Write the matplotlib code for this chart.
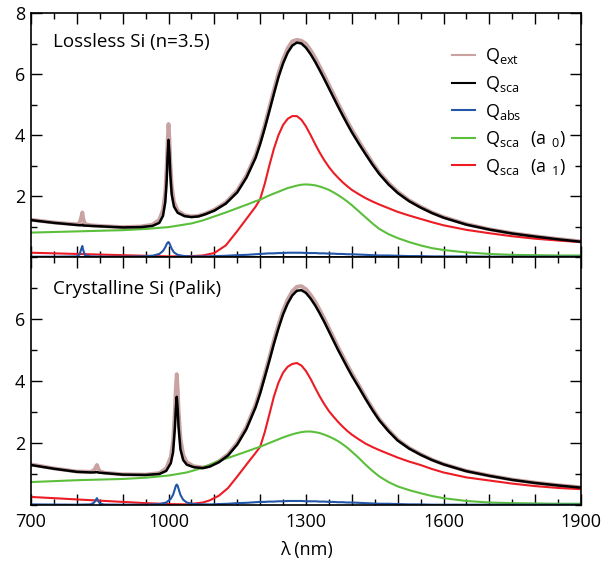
import matplotlib
matplotlib.use("Agg")
from matplotlib import pyplot as plt
from matplotlib.ticker import MultipleLocator, FuncFormatter
from matplotlib.lines import Line2D

plt.rcParams['font.family'] = ['Open Sans', 'DejaVu Sans']
plt.rcParams['mathtext.fontset'] = 'custom'
plt.rcParams['mathtext.rm'] = 'Open Sans'

# ---- top panel: lossless Si (n=3.5) ----
wl_top = [700, 750, 800, 806, 810, 812, 814, 818, 830, 860,
          900, 940, 965, 980, 988, 993, 996, 998, 1000, 1002,
          1004, 1007, 1012, 1020, 1035, 1050, 1065, 1080,
          1100, 1125, 1150, 1170, 1190,
          1200, 1210, 1220, 1230, 1240, 1250, 1260, 1270, 1280, 1290, 1300,
          1310, 1320, 1330, 1340, 1350, 1360, 1370, 1380, 1390, 1400,
          1415, 1430, 1445, 1460, 1480, 1500, 1525, 1550, 1575, 1600,
          1650, 1700, 1750, 1800, 1850, 1900]
sca_top = [1.21, 1.12, 1.05, 1.04, 1.04, 1.06, 1.03, 1.03, 1.02, 1.00,
           0.97, 0.98, 1.02, 1.12, 1.35, 1.80, 2.50, 3.30, 3.84, 3.40,
           2.70, 2.05, 1.65, 1.45, 1.34, 1.31, 1.33, 1.40,
           1.52, 1.75, 2.12, 2.60, 3.25,
           3.70, 4.22, 4.78, 5.35, 5.90, 6.35, 6.70, 6.93, 7.03, 7.00, 6.86,
           6.65, 6.40, 6.12, 5.83, 5.53, 5.23, 4.93, 4.64, 4.36, 4.09,
           3.72, 3.37, 3.03, 2.72, 2.38, 2.10, 1.83, 1.62, 1.44, 1.29,
           1.06, 0.90, 0.77, 0.67, 0.58, 0.50]
abs_top = [0.01, 0.01, 0.02, 0.08, 0.28, 0.36, 0.22, 0.05, 0.02, 0.01,
           0.01, 0.02, 0.04, 0.10, 0.20, 0.32, 0.42, 0.47, 0.49, 0.45,
           0.38, 0.27, 0.15, 0.07, 0.03, 0.02, 0.02, 0.02,
           0.03, 0.04, 0.06, 0.07, 0.09,
           0.10, 0.11, 0.12, 0.12, 0.13, 0.13, 0.14, 0.14, 0.14, 0.14, 0.13,
           0.13, 0.13, 0.12, 0.12, 0.11, 0.11, 0.10, 0.10, 0.09, 0.09,
           0.08, 0.07, 0.06, 0.05, 0.05, 0.04, 0.03, 0.03, 0.02, 0.02,
           0.02, 0.01, 0.01, 0.01, 0.01, 0.01]
ext_top = [1.22, 1.13, 1.07, 1.12, 1.32, 1.46, 1.25, 1.08, 1.04, 1.01,
           0.98, 1.00, 1.06, 1.22, 1.55, 2.12, 2.92, 3.77, 4.36, 3.85,
           3.08, 2.32, 1.80, 1.52, 1.37, 1.33, 1.35, 1.42,
           1.55, 1.79, 2.18, 2.67, 3.34,
           3.80, 4.33, 4.90, 5.47, 6.03, 6.48, 6.84, 7.07, 7.12, 7.09, 6.99,
           6.78, 6.53, 6.24, 5.95, 5.64, 5.34, 5.03, 4.74, 4.45, 4.18,
           3.80, 3.44, 3.09, 2.77, 2.43, 2.14, 1.86, 1.65, 1.46, 1.31,
           1.08, 0.91, 0.78, 0.68, 0.59, 0.51]
wl_top_a = [700, 750, 800, 850, 900, 950, 1000, 1050, 1075, 1100, 1125, 1150, 1175, 1190,
            1200, 1210, 1220, 1230, 1240, 1250, 1260, 1270, 1280, 1290, 1300,
            1310, 1320, 1330, 1340, 1350, 1360, 1370, 1380, 1390, 1400,
            1415, 1430, 1445, 1460, 1480, 1500, 1525, 1550, 1575, 1600,
            1650, 1700, 1750, 1800, 1850, 1900]
a0_top = [0.80, 0.82, 0.84, 0.86, 0.88, 0.92, 0.98, 1.10, 1.20, 1.33, 1.46, 1.60, 1.74, 1.83,
          1.88, 1.95, 2.02, 2.08, 2.14, 2.20, 2.26, 2.30, 2.34, 2.37, 2.38,
          2.37, 2.35, 2.31, 2.26, 2.20, 2.12, 2.03, 1.93, 1.82, 1.70,
          1.50, 1.30, 1.10, 0.92, 0.75, 0.62, 0.49, 0.38, 0.29, 0.23,
          0.15, 0.10, 0.07, 0.06, 0.05, 0.05]
a1_top = [0.14, 0.12, 0.10, 0.08, 0.06, 0.04, 0.02, 0.03, 0.05, 0.13, 0.38, 0.85, 1.35, 1.65,
          1.90, 2.40, 3.00, 3.55, 4.00, 4.33, 4.53, 4.62, 4.62, 4.50, 4.28,
          4.00, 3.70, 3.42, 3.17, 2.95, 2.76, 2.60, 2.45, 2.32, 2.20,
          2.06, 1.93, 1.82, 1.72, 1.60, 1.48, 1.36, 1.25, 1.14, 1.04,
          0.89, 0.78, 0.68, 0.60, 0.54, 0.49]

# ---- bottom panel: crystalline Si (Palik) ----
wl_bot = [700, 750, 800, 830, 838, 842, 844, 846, 850, 860,
          900, 950, 980, 995, 1005, 1010, 1014, 1016, 1018, 1020,
          1022, 1026, 1032, 1040, 1055, 1075, 1090,
          1110, 1130, 1150, 1170, 1190,
          1200, 1210, 1220, 1230, 1240, 1250, 1260, 1270, 1280, 1290, 1300,
          1310, 1320, 1330, 1340, 1350, 1360, 1370, 1380, 1390, 1400,
          1415, 1430, 1445, 1460, 1480, 1500, 1525, 1550, 1575, 1600,
          1650, 1700, 1750, 1800, 1850, 1900]
sca_bot = [1.29, 1.17, 1.07, 1.05, 1.05, 1.06, 1.06, 1.05, 1.04, 1.03,
           0.98, 0.97, 1.00, 1.10, 1.35, 1.70, 2.50, 3.10, 3.49, 3.10,
           2.50, 1.80, 1.45, 1.30, 1.22, 1.19, 1.24,
           1.38, 1.60, 1.95, 2.45, 3.15,
           3.60, 4.12, 4.65, 5.20, 5.70, 6.15, 6.50, 6.76, 6.91, 6.93, 6.84,
           6.66, 6.44, 6.18, 5.90, 5.60, 5.30, 5.00, 4.72, 4.44, 4.17,
           3.80, 3.42, 3.06, 2.73, 2.38, 2.08, 1.82, 1.62, 1.45, 1.31,
           1.09, 0.94, 0.81, 0.71, 0.63, 0.56]
abs_bot = [0.02, 0.015, 0.01, 0.02, 0.08, 0.18, 0.22, 0.15, 0.05, 0.015,
           0.01, 0.01, 0.03, 0.08, 0.20, 0.33, 0.52, 0.62, 0.66, 0.62,
           0.52, 0.33, 0.17, 0.08, 0.03, 0.02, 0.02,
           0.03, 0.04, 0.06, 0.07, 0.09,
           0.10, 0.10, 0.11, 0.11, 0.12, 0.12, 0.13, 0.13, 0.13, 0.13, 0.12,
           0.12, 0.12, 0.11, 0.11, 0.10, 0.10, 0.09, 0.09, 0.08, 0.08,
           0.07, 0.06, 0.05, 0.04, 0.04, 0.03, 0.02, 0.02, 0.01, 0.01,
           0.01, 0.01, 0.01, 0.01, 0.01, 0.01]
ext_bot = [1.31, 1.18, 1.08, 1.07, 1.13, 1.24, 1.29, 1.20, 1.09, 1.04,
           0.99, 0.98, 1.03, 1.18, 1.55, 2.05, 3.05, 3.75, 4.22, 3.75,
           3.05, 2.15, 1.62, 1.38, 1.25, 1.21, 1.26,
           1.41, 1.64, 2.01, 2.52, 3.24,
           3.70, 4.22, 4.76, 5.31, 5.82, 6.27, 6.63, 6.89, 7.04, 7.06, 6.96,
           6.78, 6.56, 6.29, 6.01, 5.70, 5.40, 5.09, 4.81, 4.52, 4.25,
           3.87, 3.48, 3.11, 2.77, 2.42, 2.11, 1.84, 1.64, 1.46, 1.32,
           1.10, 0.95, 0.82, 0.72, 0.64, 0.57]
wl_bot_a = [700, 750, 800, 850, 900, 950, 1000, 1040, 1075, 1090, 1110, 1130, 1150, 1175, 1190,
            1200, 1210, 1220, 1230, 1240, 1250, 1260, 1270, 1280, 1290, 1300,
            1310, 1320, 1330, 1340, 1350, 1360, 1370, 1380, 1390, 1400,
            1415, 1430, 1445, 1460, 1480, 1500, 1525, 1550, 1575, 1600,
            1650, 1700, 1750, 1800, 1850, 1900]
a0_bot = [0.74, 0.77, 0.80, 0.82, 0.84, 0.88, 0.95, 1.05, 1.20, 1.30, 1.42, 1.52, 1.62, 1.75, 1.83,
          1.88, 1.94, 2.00, 2.06, 2.12, 2.18, 2.23, 2.28, 2.32, 2.35, 2.37,
          2.37, 2.35, 2.32, 2.27, 2.21, 2.14, 2.06, 1.96, 1.85, 1.72,
          1.52, 1.30, 1.10, 0.92, 0.74, 0.60, 0.48, 0.38, 0.29, 0.22,
          0.13, 0.08, 0.06, 0.05, 0.04, 0.04]
a1_bot = [0.26, 0.22, 0.18, 0.14, 0.10, 0.06, 0.03, 0.02, 0.08, 0.15, 0.30, 0.55, 0.92, 1.40, 1.68,
          1.88, 2.35, 2.92, 3.50, 3.95, 4.27, 4.46, 4.55, 4.58, 4.50, 4.32,
          4.07, 3.78, 3.50, 3.25, 3.03, 2.85, 2.68, 2.53, 2.39, 2.27,
          2.12, 1.98, 1.87, 1.77, 1.65, 1.53, 1.40, 1.29, 1.16, 1.05,
          0.89, 0.79, 0.69, 0.61, 0.55, 0.51]

panel_labels = ['Lossless Si (n=3.5)', 'Crystalline Si (Palik)']
legend_labels = [r'$\mathregular{Q_{ext}}$', r'$\mathregular{Q_{sca}}$',
                 r'$\mathregular{Q_{abs}}$', r'$\mathregular{Q_{sca}\ \ (a\ _0)}$',
                 r'$\mathregular{Q_{sca}\ \ (a\ _1)}$']

c_ext = '#c9a2a2'
c_sca = 'black'
c_abs = '#2456a8'
c_a0 = '#5cbf3c'
c_a1 = '#ec1c24'

fig = plt.figure(figsize=(6.02, 5.62), dpi=100)
ax1 = fig.add_axes([31/602, 1-257/562, 550/602, 244/562])
ax2 = fig.add_axes([31/602, 1-505/562, 550/602, 248/562], sharex=ax1)

data = [(ax1, wl_top, sca_top, abs_top, ext_top, wl_top_a, a0_top, a1_top),
        (ax2, wl_bot, sca_bot, abs_bot, ext_bot, wl_bot_a, a0_bot, a1_bot)]

for i, (ax, wl, sca, ab, ext, wla, a0, a1) in enumerate(data):
    ax.plot(wl, ext, color=c_ext, lw=2.8)
    ax.plot(wla, a1, color=c_a1, lw=1.5)
    ax.plot(wla, a0, color=c_a0, lw=1.5)
    ax.plot(wl, ab, color=c_abs, lw=1.5)
    ax.plot(wl, sca, color=c_sca, lw=1.8)
    ax.set_xlim(700, 1900)
    ax.set_ylim(0, 8)
    ax.xaxis.set_major_locator(MultipleLocator(100))
    ax.xaxis.set_minor_locator(MultipleLocator(50))
    ax.yaxis.set_minor_locator(MultipleLocator(1))
    ax.tick_params(which='both', direction='in', top=True, right=True, width=1.0)
    ax.tick_params(which='major', length=8, labelsize=13)
    ax.tick_params(which='minor', length=4.5)
    ax.tick_params(axis='y', pad=4)
    ax.tick_params(axis='x', pad=6)
    for s in ax.spines.values():
        s.set_linewidth(1.2)
    ax.text(0.04, 0.88 if i == 0 else 0.871, panel_labels[i], transform=ax.transAxes,
            fontsize=13.5, va='center', ha='left')

ax1.set_yticks([2, 4, 6, 8])
ax2.set_yticks([2, 4, 6])
ax1.tick_params(axis='x', labelbottom=False)
ax2.xaxis.set_major_formatter(FuncFormatter(lambda v, p: '%d' % v if int(round(v - 700)) % 300 == 0 else ''))
ax2.set_xlabel('λ (nm)', fontsize=13, labelpad=7)

handles = [Line2D([], [], color=c, lw=1.5) for c in (c_ext, c_sca, c_abs, c_a0, c_a1)]
ax1.legend(handles, legend_labels, loc='upper left', bbox_to_anchor=(0.749, 0.9),
           frameon=False, fontsize=13, handlelength=1.3, handletextpad=0.55,
           labelspacing=0.42, borderpad=0)

fig.savefig('out.png', dpi=100)
